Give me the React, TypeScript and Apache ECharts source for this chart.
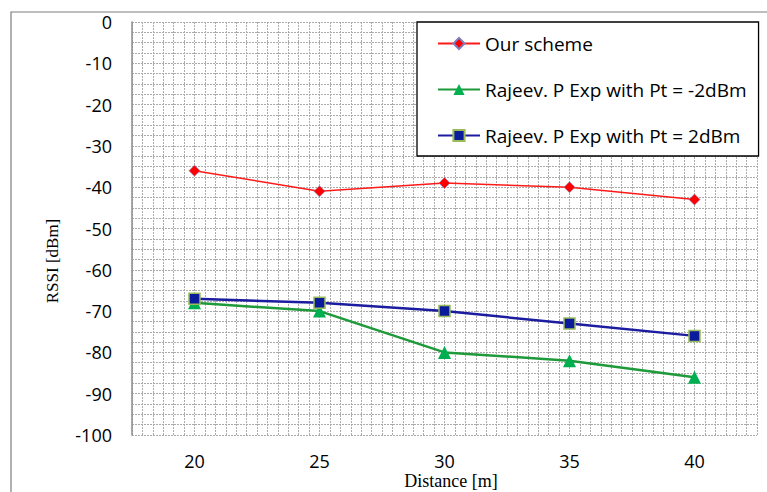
import React, { useEffect, useRef } from "react";
import * as echarts from "echarts";

const distances = ["20", "25", "30", "35", "40"];
const ourScheme = [-36, -41, -39, -40, -43];
const rajeevMinus2 = [-68, -70, -80, -82, -86];
const rajeevPlus2 = [-67, -68, -70, -73, -76];
const seriesNames = [
  "Our scheme",
  "Rajeev. P Exp with Pt = -2dBm",
  "Rajeev. P Exp with Pt = 2dBm",
];

const gridLine = { color: "#ababab", width: 1, type: [2, 1] as number[] };

export default function App() {
  const ref = useRef<HTMLDivElement>(null);
  useEffect(() => {
    if (!ref.current) return;
    const chart = echarts.init(ref.current, null, { renderer: "svg" });
    chart.setOption({
      animation: false,
      backgroundColor: "#ffffff",
      grid: { left: 132, top: 22, right: 10, bottom: 57, containLabel: false },
      graphic: [
        {
          type: "rect",
          shape: { x: 11, y: 12, width: 900, height: 700 },
          style: { fill: "none", stroke: "#7f7f7f", lineWidth: 1.2 },
          silent: true,
          z: -10,
        },
        {
          type: "text",
          x: 52,
          y: 261,
          rotation: Math.PI / 2,
          style: {
            text: "RSSI [dBm]",
            font: "17px 'Liberation Serif', serif",
            fill: "#000",
            align: "center",
            verticalAlign: "middle",
          },
        },
        {
          type: "text",
          x: 451,
          y: 481,
          style: {
            text: "Distance [m]",
            font: "18px 'Liberation Serif', serif",
            fill: "#000",
            align: "center",
            verticalAlign: "middle",
          },
        },
      ],
      legend: {
        orient: "vertical",
        left: 417,
        top: 22,
        backgroundColor: "#ffffff",
        borderColor: "#000000",
        borderWidth: 1.3,
        padding: [12, 12, 11, 20],
        itemGap: 27,
        itemWidth: 42,
        itemHeight: 14,
        textStyle: { fontFamily: "'Open Sans'", fontSize: 19, color: "#000", padding: [0, 0, 0, 0] },
        data: seriesNames,
      },
      xAxis: [
        {
          type: "category",
          data: distances,
          boundaryGap: true,
          axisLine: { show: false },
          axisTick: { show: false },
          axisLabel: { fontFamily: "'Open Sans'", fontSize: 18, color: "#000", margin: 17 },
          splitLine: { show: false },
        },
        {
          type: "value",
          min: 0,
          max: 60,
          interval: 1,
          show: true,
          axisLine: { show: false },
          axisTick: { show: false },
          axisLabel: { show: false },
          splitLine: { show: true, lineStyle: gridLine },
        },
      ],
      yAxis: {
        type: "value",
        min: -100,
        max: 0,
        interval: 10,
        axisLine: { show: true, lineStyle: { color: "#8c8c8c", width: 1.5 } },
        axisTick: { show: false },
        axisLabel: { fontFamily: "'Open Sans'", fontSize: 18, color: "#000", margin: 20 },
        splitLine: { show: true, lineStyle: gridLine },
        minorTick: { show: false, splitNumber: 4 },
        minorSplitLine: { show: true, lineStyle: gridLine },
      },
      series: [
        {
          name: seriesNames[0],
          type: "line",
          data: ourScheme,
          symbol: "diamond",
          symbolSize: 11,
          lineStyle: { color: "#ff1a1a", width: 1.5 },
          itemStyle: { color: "#ff0000", borderColor: "#8080c0", borderWidth: 0.6 },
          z: 5,
        },
        {
          name: seriesNames[1],
          type: "line",
          data: rajeevMinus2,
          symbol: "triangle",
          symbolSize: 13,
          lineStyle: { color: "#1e9a3a", width: 2.5 },
          itemStyle: { color: "#00b050" },
          z: 4,
        },
        {
          name: seriesNames[2],
          type: "line",
          data: rajeevPlus2,
          symbol: "rect",
          symbolSize: 11,
          lineStyle: { color: "#1c1ca0", width: 2.5 },
          itemStyle: { color: "#0a1c9c", borderColor: "#9bbb59", borderWidth: 1.5 },
          z: 6,
        },
      ],
    });
    return () => chart.dispose();
  }, []);
  return (
    <div
      ref={ref}
      style={{ position: "fixed", left: 0, top: 0, width: 767, height: 492 }}
    />
  );
}
